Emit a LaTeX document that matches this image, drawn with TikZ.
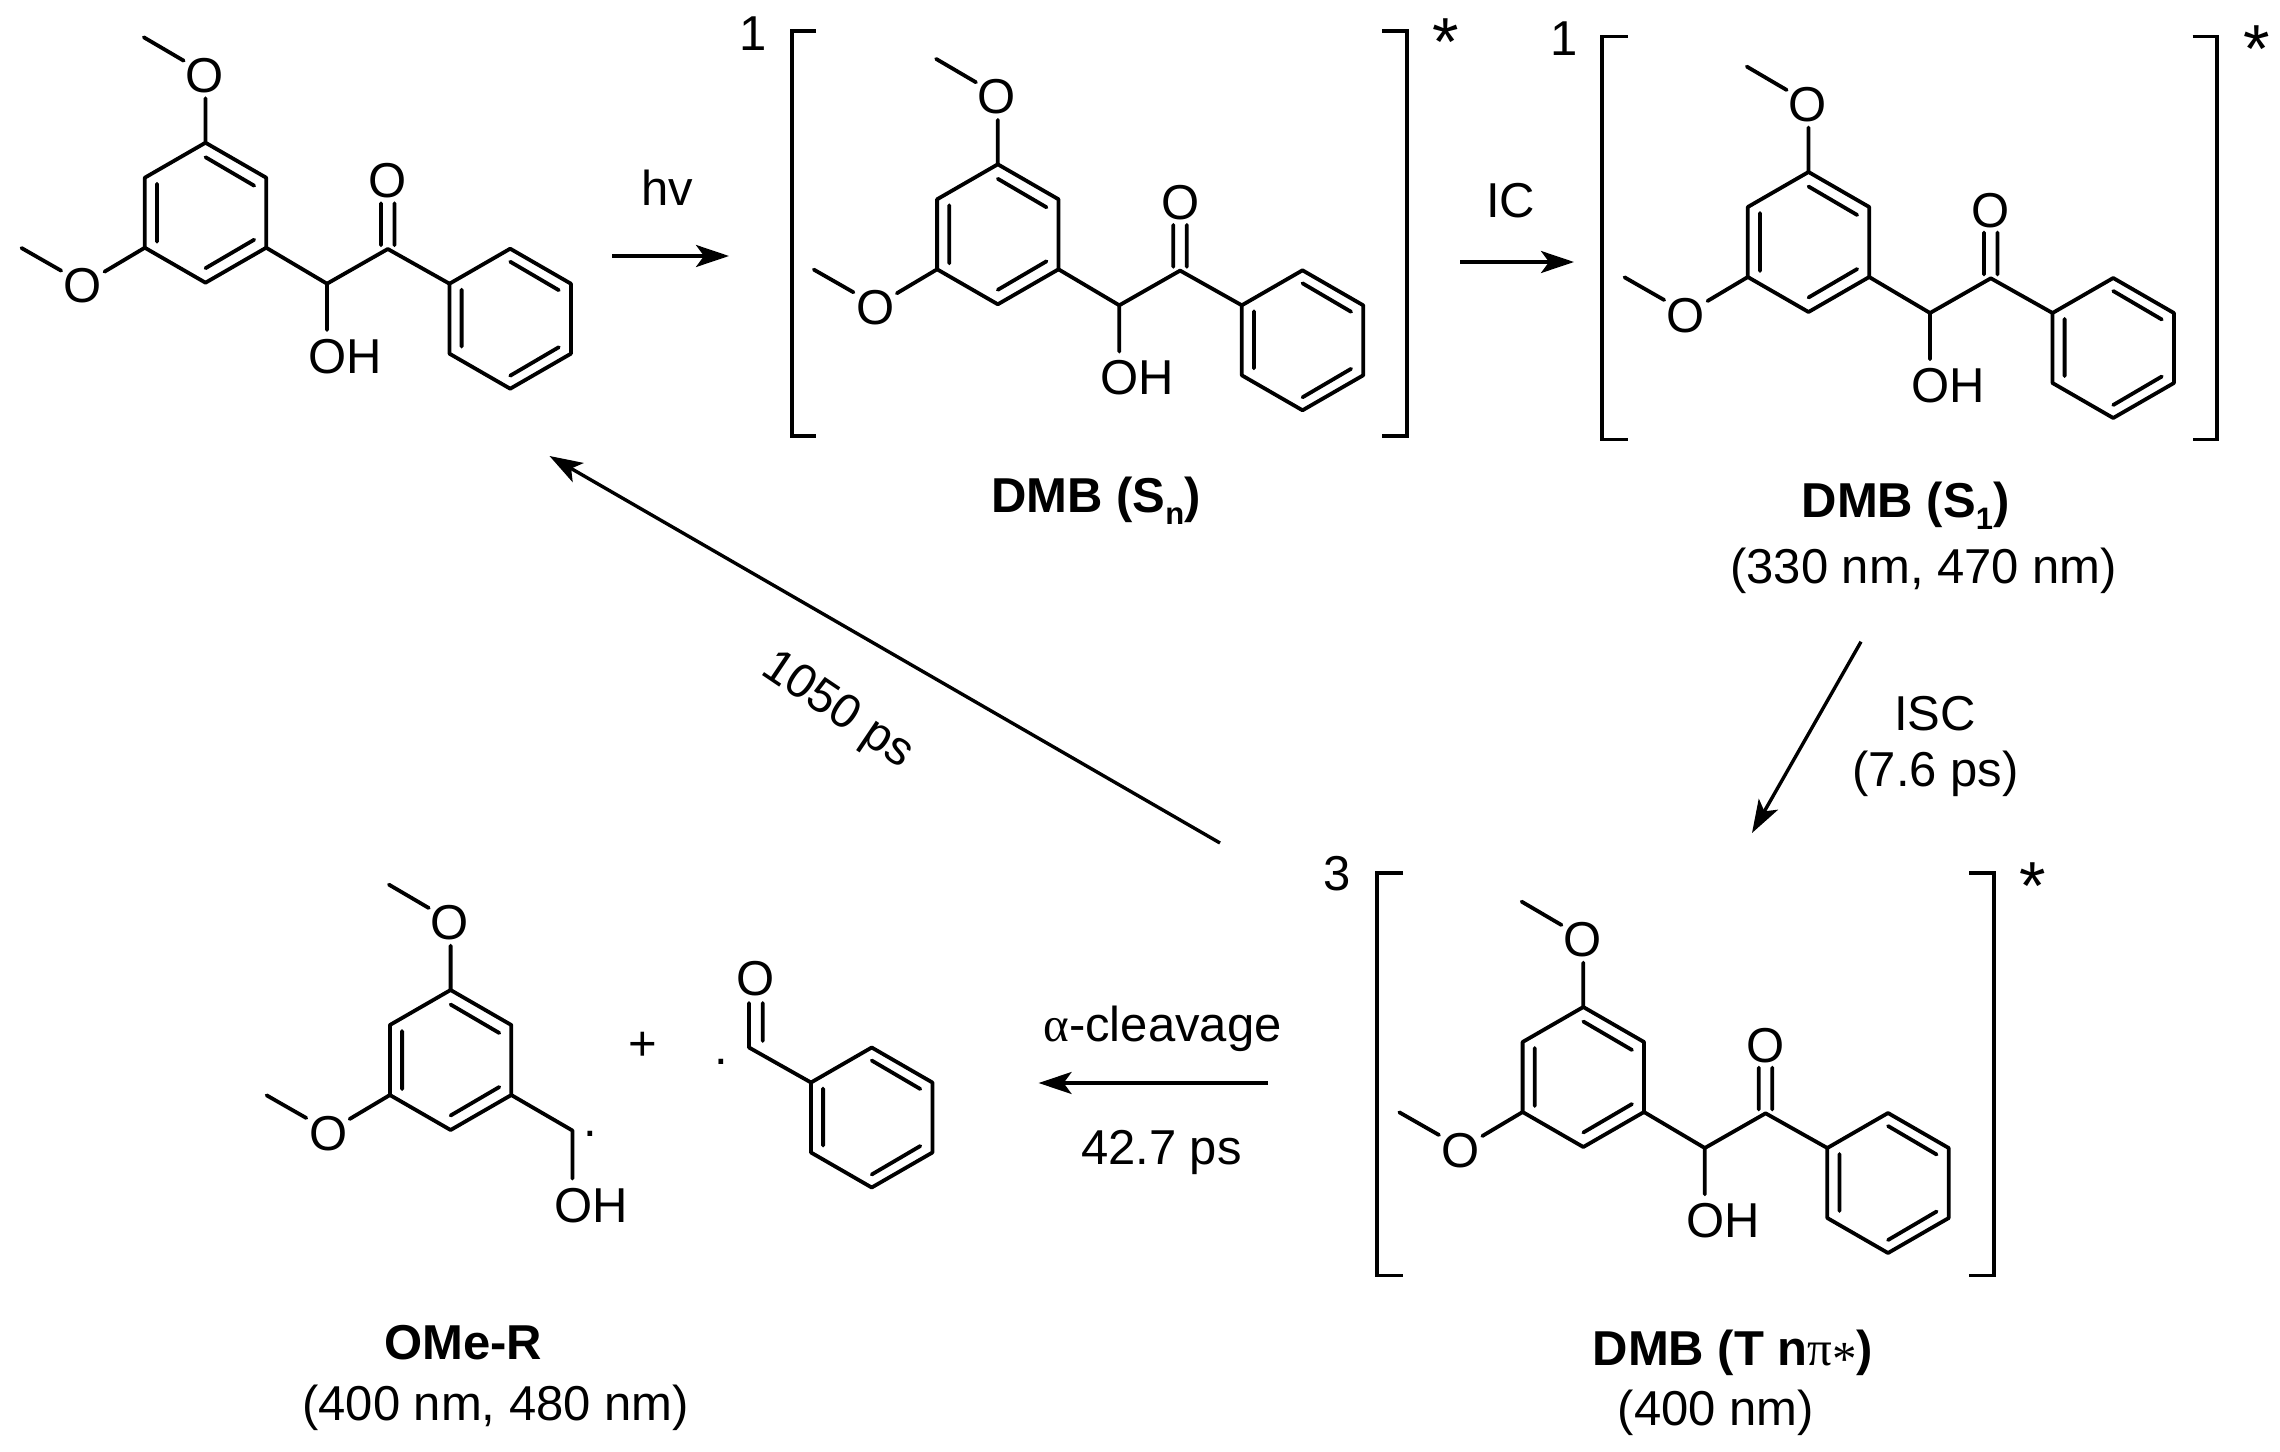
\documentclass[tikz,border=0pt]{standalone}
\usepackage{fontspec}
\setmainfont{Liberation Sans}
\newfontfamily\symbfont{Liberation Serif}
\usetikzlibrary{arrows.meta}
\newcommand{\reg}{\fontsize{49}{49}\selectfont}
\tikzset{
  bond/.style={line width=3.8pt,line cap=round,line join=round,black},
  txt/.style={anchor=base,inner sep=0pt,font=\reg,yshift=-17.5pt},
  boldtxt/.style={txt,font=\reg\bfseries},
  radical/.style={anchor=base,inner sep=0pt,font=\reg},
  starlab/.style={anchor=base,inner sep=0pt,font=\fontsize{68}{68}\selectfont,yshift=-33pt},
  bracket/.style={line width=3.8pt,line cap=butt,line join=miter},
  rxn/.style={line width=3.4pt,-{Stealth[length=33pt,width=22pt,inset=8pt]}},
  pics/dmb/.style={code={\anisylbody\ketolbody}},
  pics/anisyl/.style={code={\anisylbody}},
  pics/phenyl/.style={code={\phenylbody}},
}
\newcommand{\phenylbody}{%
  \coordinate (p1) at (0,0);
  \coordinate (p2) at (60.7,-35);
  \coordinate (p3) at (121.4,0);
  \coordinate (p4) at (121.4,70);
  \coordinate (p5) at (60.7,105);
  \coordinate (p6) at (0,70);
  \coordinate (q1) at (60.7,-22);
  \coordinate (q2) at (109.3,6.5);
  \coordinate (q3) at (60.7,92);
  \coordinate (q4) at (109.3,63.5);
  \coordinate (q5) at (12.1,6);
  \coordinate (q6) at (12.1,63);
  \draw[bond] (p1)--(p2)--(p3)--(p4)--(p5)--(p6)--cycle;
  \draw[bond] (q1)--(q2) (q3)--(q4) (q5)--(q6);
}
\newcommand{\anisylbody}{%
  \coordinate (a1) at (0,0);
  \coordinate (a2) at (60.7,35);
  \coordinate (a3) at (60.7,105);
  \coordinate (a4) at (0,140);
  \coordinate (a5) at (-60.7,105);
  \coordinate (a6) at (-60.7,35);
  \coordinate (b1) at (0,14.5);
  \coordinate (b2) at (48.7,43);
  \coordinate (b3) at (48.7,97);
  \coordinate (b4) at (0,125.5);
  \coordinate (b5) at (-48.5,41);
  \coordinate (b6) at (-48.5,99);
  \draw[bond] (a1)--(a2)--(a3)--(a4)--(a5)--(a6)--cycle;
  \draw[bond] (b1)--(b2) (b3)--(b4) (b5)--(b6);
  \node[txt] (otop) at (-1,-68) {O};
  \coordinate (mt1) at (-61.7,-105.4);
  \coordinate (mt2) at (-21.8,-82);
  \coordinate (ot) at (0,-44.4);
  \draw[bond] (a1)--(ot) (mt1)--(mt2);
  \node[txt] (oleft) at (-122.5,142.6) {O};
  \coordinate (ml1) at (-184,105.3);
  \coordinate (ml2) at (-144.3,128);
  \coordinate (ol) at (-101,129);
  \draw[bond] (a5)--(ol) (ml1)--(ml2);
}
\newcommand{\ketolbody}{%
  \coordinate (ch) at (121.5,141);
  \coordinate (co) at (182.3,106.3);
  \coordinate (pa) at (244,141);
  \coordinate (oh) at (121.5,187.3);
  \node[txt] (ohlab) at (139.5,213) {OH};
  \node[txt] (ocarb) at (182.3,37.6) {O};
  \coordinate (d1) at (175.5,60.6);
  \coordinate (d2) at (175.5,102.5);
  \coordinate (d3) at (189,60.6);
  \coordinate (d4) at (189,102.5);
  \draw[bond] (a3)--(ch)--(co)--(pa) (ch)--(oh) (d1)--(d2) (d3)--(d4);
  \begin{scope}[shift={(244,141)}]\phenylbody\end{scope}
}
\newcommand{\subtxt}[1]{\raisebox{-12pt}{\fontsize{31}{31}\selectfont #1}}
\begin{document}
\begin{tikzpicture}[x=1pt,y=-1pt]
\useasboundingbox (0,0) rectangle (2280,1451);
\fill[white] (0,0) rectangle (2280,1451);

% molecules
\pic (mA) at (205.5,142.7) {dmb};
\pic (mB) at (997.8,164.3) {dmb};
\pic (mC) at (1808.5,172) {dmb};
\pic (mD) at (1583.3,1007) {dmb};
\pic (mE) at (450.6,990) {anisyl};
\pic (mF) at (811,1082.5) {phenyl};

% radical fragment on OMe-R
\coordinate (rc) at (572.4,1130.5);
\coordinate (rb) at (572.4,1178.5);
\node[txt] (rohlab) at (590.8,1205) {OH};
\draw[bond] (mEa3)--(rc)--(rb);
\node[radical] (rdot) at (590,1136) {.};
% benzoyl fragment
\coordinate (fc) at (749,1047.5);
\coordinate (fd1) at (749,1003);
\coordinate (fd2) at (762.7,1003);
\coordinate (fd3) at (762.7,1041);
\node[txt] (fo) at (755.5,978) {O};
\draw[bond] (mFp1)--(fc)--(fd1) (fd2)--(fd3);
\node[radical] (fdot) at (721,1064) {.};
\node[txt] (plus) at (643,1043) {+};

% brackets
\coordinate (bB1) at (816,31);\coordinate (bB2) at (791.7,31);\coordinate (bB3) at (791.7,436);\coordinate (bB4) at (816,436);
\coordinate (bB5) at (1382,31);\coordinate (bB6) at (1407,31);\coordinate (bB7) at (1407,436);\coordinate (bB8) at (1382,436);
\draw[bracket] (bB1)--(bB2)--(bB3)--(bB4);
\draw[bracket] (bB5)--(bB6)--(bB7)--(bB8);
\coordinate (bC1) at (1627.5,36.4);\coordinate (bC2) at (1602,36.4);\coordinate (bC3) at (1602,439.5);\coordinate (bC4) at (1627.5,439.5);
\coordinate (bC5) at (2192.5,36.4);\coordinate (bC6) at (2216.6,36.4);\coordinate (bC7) at (2216.6,439.5);\coordinate (bC8) at (2192.5,439.5);
\draw[bracket] (bC1)--(bC2)--(bC3)--(bC4);
\draw[bracket] (bC5)--(bC6)--(bC7)--(bC8);
\coordinate (bD1) at (1403,873);\coordinate (bD2) at (1377,873);\coordinate (bD3) at (1377,1275.5);\coordinate (bD4) at (1403,1275.5);
\coordinate (bD5) at (1969,873);\coordinate (bD6) at (1993.6,873);\coordinate (bD7) at (1993.6,1275.5);\coordinate (bD8) at (1969,1275.5);
\draw[bracket] (bD1)--(bD2)--(bD3)--(bD4);
\draw[bracket] (bD5)--(bD6)--(bD7)--(bD8);

% multiplicities and stars
\node[txt] (n1) at (753,33) {1};
\node[txt] (n2) at (1564,37.5) {1};
\node[txt] (n3) at (1337,873) {3};
\node[starlab] (s1) at (1445.6,32.8) {*};
\node[starlab] (s2) at (2257,39.5) {*};
\node[starlab] (s3) at (2033,876) {*};

% reaction arrows
\coordinate (hv1) at (612,256);\coordinate (hv2) at (729,256);
\draw[rxn] (hv1)--(hv2);
\node[txt] (hvlab) at (667.5,188) {hv};
\coordinate (ic1) at (1460,262);\coordinate (ic2) at (1574,262);
\draw[rxn] (ic1)--(ic2);
\node[txt] (iclab) at (1510.7,199.6) {IC};
\coordinate (isc1) at (1861,641.7);\coordinate (isc2) at (1752,833);
\draw[rxn] (isc1)--(isc2);
\node[txt] (isclab) at (1935,713) {ISC};
\node[txt] (isctime) at (1935.5,768.5) {(7.6 ps)};
\coordinate (back1) at (1220,843);\coordinate (back2) at (549.5,456);
\draw[rxn] (back1)--(back2);
\node[inner sep=0pt,font=\fontsize{48}{48}\selectfont,rotate=-34] (backlab) at (837,711) {1050 ps};
\coordinate (cl1) at (1268,1083);\coordinate (cl2) at (1038.6,1083);
\draw[rxn] (cl1)--(cl2);
\node[txt] (cllab) at (1162.5,1024) {{\symbfont α}-cleavage};
\node[txt] (cltime) at (1161.4,1147) {42.7 ps};

% compound labels
\node[boldtxt] (lB) at (1096,494.5) {DMB (S\subtxt{n})};
\node[boldtxt] (lC) at (1905.5,499.5) {DMB (S\subtxt{1})};
\node[txt] (lC2) at (1923.7,566) {(330 nm, 470 nm)};
\node[boldtxt] (lD) at (1733,1348) {DMB (T n{\mdseries\symbfont π\raisebox{-10pt}{*}})};
\node[txt] (lD2) at (1716,1408) {(400 nm)};
\node[boldtxt] (lE) at (463.4,1342) {OMe-R};
\node[txt] (lE2) at (495.6,1402.5) {(400 nm, 480 nm)};
\end{tikzpicture}
\end{document}
